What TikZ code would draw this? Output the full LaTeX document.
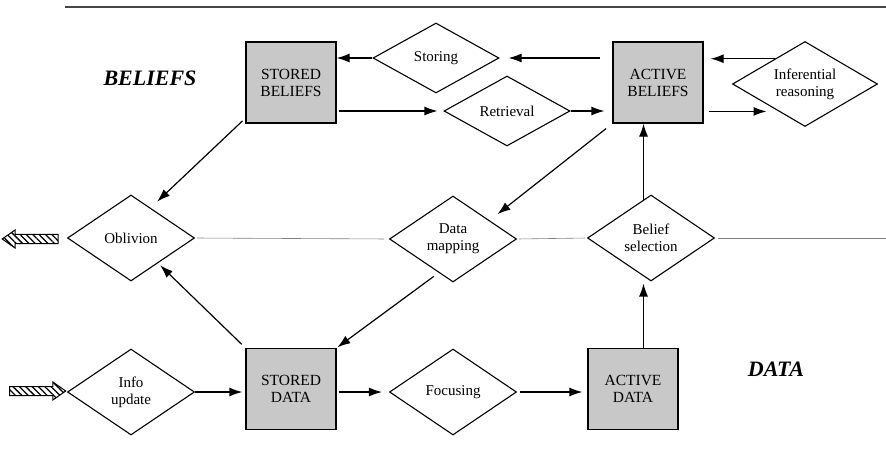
\documentclass[tikz,border=0pt]{standalone}
\usepackage{fontspec}
\setmainfont{Liberation Serif}
\usetikzlibrary{shapes.geometric,shapes.arrows,patterns.meta,arrows.meta}

\definecolor{boxgray}{RGB}{200,200,200}
\definecolor{rulegray}{RGB}{70,70,70}

\tikzset{
  store/.style={draw,line width=1.2pt,fill=boxgray,minimum width=90pt,minimum height=81pt,
    inner sep=0pt,align=center,font=\fontsize{15.5}{17}\selectfont},
  proc/.style={draw,line width=1.1pt,fill=white,diamond,aspect=1.5,inner sep=0pt,
    minimum width=127pt,minimum height=86pt,align=center,font=\fontsize{15}{17}\selectfont},
  arr/.style={line width=1.2pt,-{Latex[length=13pt,width=9pt]}},
  midline/.style={line width=0.6pt,gray},
  hatch/.style={draw,line width=1pt,single arrow,inner xsep=0pt,inner ysep=4pt,
    minimum height=56pt,single arrow head extend=4.5pt,single arrow tip angle=70,
    pattern={Lines[angle=-45,distance=4.5pt,line width=1.3pt]}},
  grouplabel/.style={font=\fontsize{22}{24}\selectfont\bfseries\itshape}
}

\begin{document}
\begin{tikzpicture}[x=1pt,y=1pt]
\useasboundingbox (0,0) rectangle (886,-450);
\coordinate (tl) at (65,-7);
\coordinate (tr) at (886,-7);
\draw [rulegray,line width=1.5pt] (tl) -- (tr);

\node [grouplabel] (beliefs) at (150,-78) {BELIEFS};
\node [grouplabel] (data) at (776,-369) {DATA};

\node [store] (sb) at (291,-82.5) {STORED\\BELIEFS};
\node [store] (ab) at (658,-82.5) {ACTIVE\\BELIEFS};
\node [store] (sd) at (291,-389) {STORED\\DATA};
\node [store] (ad) at (633,-389) {ACTIVE\\DATA};

\node [proc,minimum width=126pt,minimum height=70pt] (st) at (436,-58) {Storing};
\node [proc,minimum width=126pt,minimum height=70pt] (rt) at (507,-111) {Retrieval};
\node [proc,minimum width=145pt,minimum height=85pt] (ir) at (805,-84) {Inferential\\reasoning};
\node [proc] (ob) at (131,-238) {Oblivion};
\node [proc] (dm) at (453,-239) {Data\\mapping};
\node [proc] (bs) at (651,-238) {Belief\\selection};
\node [proc] (iu) at (131,-392) {Info\\update};
\node [proc] (fo) at (453,-392) {Focusing};

\node [hatch,shape border rotate=180] (outarr) at (33.5,-239) {};
\node [hatch] (inarr) at (34.5,-391) {};

\coordinate (rend) at (886,-238);
\draw [midline,shorten <=2pt,shorten >=5pt] (ob.east) -- (dm.west);
\draw [midline,shorten <=2pt,shorten >=2pt] (dm.east) -- (bs.west);
\draw [midline,shorten <=3pt] (bs.east) -- (rend);

\draw [arr,shorten <=12pt,shorten >=9pt] (ab.west |- st) -- (st.east);
\draw [arr] (st.west) -- (sb.east |- st);
\draw [arr,shorten <=2pt,shorten >=6pt] (sb.east |- rt) -- (rt.west);
\draw [arr,shorten >=8pt] (rt.east) -- (ab.west |- rt);
\draw [arr,shorten >=7pt] (ir.140) -- (ab.east |- ir.140);
\draw [arr,shorten <=5pt,shorten >=12pt] (ab.east |- ir.226) -- (ir.226);

\draw [arr,shorten <=4pt,shorten >=9pt] (sb.218) -- (ob.57);
\draw [arr,shorten <=5pt,shorten >=3pt] (sd.north west) -- (ob.-43);
\draw [arr,shorten <=8pt,shorten >=10pt] (ab.south west) -- (dm.27);
\draw [arr,shorten <=6pt,shorten >=1pt] (dm.247) -- (sd.north east);

\draw [arr,shorten >=3pt] (iu.east) -- (sd.west |- iu);
\draw [arr,shorten <=2pt,shorten >=7pt] (sd.east |- fo) -- (fo.west);
\draw [arr,shorten <=3pt,shorten >=5pt] (fo.east) -- (ad.west |- fo);
\draw [arr,shorten >=2pt] (ad.north -| bs.101) -- (bs.101 |- bs.south);
\draw [arr] (bs.101) -- (bs.101 |- ab.south);
\end{tikzpicture}
\end{document}
